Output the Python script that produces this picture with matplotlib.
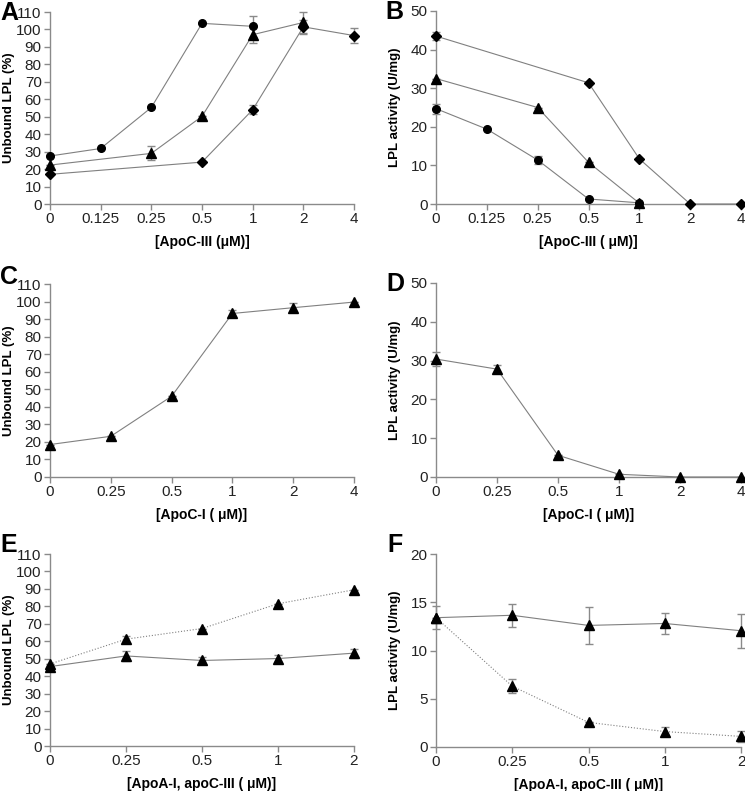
import numpy as np
import matplotlib as mpl
mpl.use('agg')
import matplotlib.pyplot as plt

plt.rcParams['font.family'] = ['Liberation Sans', 'DejaVu Sans']

## x categories (plotted at equal spacing)
conc_c3 = ['0', '0.125', '0.25', '0.5', '1', '2', '4']
conc_c1 = ['0', '0.25', '0.5', '1', '2', '4']
conc_mix = ['0', '0.25', '0.5', '1', '2']

## panel A: unbound LPL vs apoC-III
a_circ_x = ['0', '0.125', '0.25', '0.5', '1']
a_circ_y = [27.5, 31.8, 55.3, 103.5, 101.8]
a_circ_e = [0, 0, 0, 0, 6.0]
a_tri_x = ['0', '0.25', '0.5', '1', '2']
a_tri_y = [22.3, 29.0, 50.2, 97.0, 104.0]
a_tri_e = [0, 4.0, 0, 4.5, 6.0]
a_dia_x = ['0', '0.5', '1', '2', '4']
a_dia_y = [17.0, 24.0, 54.0, 101.5, 96.5]
a_dia_e = [0, 0, 2.5, 4.0, 4.5]

## panel B: LPL activity vs apoC-III
b_circ_x = ['0', '0.125', '0.25', '0.5', '1']
b_circ_y = [24.7, 19.4, 11.4, 1.3, 0.3]
b_circ_e = [1.3, 0, 1.0, 0, 0]
b_tri_x = ['0', '0.25', '0.5', '1']
b_tri_y = [32.5, 25.0, 10.8, 0.2]
b_tri_e = [0, 0, 0, 0]
b_dia_x = ['0', '0.5', '1', '2', '4']
b_dia_y = [43.5, 31.4, 11.7, 0.0, 0.0]
b_dia_e = [1.0, 0, 0, 0, 0]

## panel C / D: apoC-I
c_y = [18.5, 23.2, 46.0, 93.2, 96.5, 99.7]
c_e = [0, 0, 0, 2.0, 2.5, 0]
d_y = [30.4, 27.8, 5.6, 0.7, 0.0, 0.0]
d_e = [1.8, 1.0, 0, 0, 0, 0]

## panel E / F: apoA-I (solid) and apoC-III (dotted)
e_solid = [45.5, 51.6, 49.0, 50.1, 53.2]
e_solid_e = [0, 3.0, 2.0, 2.0, 2.5]
e_dot = [47.0, 61.2, 67.3, 81.5, 89.5]
e_dot_e = [0, 2.0, 0, 0, 0]
f_solid = [13.4, 13.65, 12.6, 12.8, 12.05]
f_solid_e = [1.2, 1.2, 1.9, 1.05, 1.75]
f_dot = [13.4, 6.3, 2.55, 1.6, 1.1]
f_dot_e = [0, 0.7, 0, 0.45, 0.55]

W, H = 745, 791
fig = plt.figure(figsize=(W / 100, H / 100), dpi=100)

GRAY = '#8a8a8a'
LINE = '#808080'


def make_ax(left, right, top, bottom):
    ax = fig.add_axes([left / W, 1 - bottom / H, (right - left) / W, (bottom - top) / H])
    ax.px_left = left
    ax.px_width = right - left
    for s in ['top', 'right']:
        ax.spines[s].set_visible(False)
    for s in ['left', 'bottom']:
        ax.spines[s].set_color(GRAY)
        ax.spines[s].set_linewidth(1.0)
    ax.tick_params(colors=GRAY, labelcolor='#222222', length=4, width=1.0,
                   labelsize=11, pad=2)
    return ax


def series(ax, cats, xs, ys, es, marker, ms, ls='-'):
    pos = [cats.index(x) for x in xs]
    ax.errorbar(pos, ys, yerr=es, fmt='none', ecolor=GRAY, elinewidth=1.0,
                capsize=3, capthick=1.0, clip_on=False, zorder=2)
    ax.plot(pos, ys, ls=ls, color=LINE, lw=0.8, zorder=3, clip_on=False)
    ax.plot(pos, ys, ls='none', marker=marker, ms=ms, color='black',
            zorder=4, clip_on=False)


def finish(ax, cats, ymax, ystep, xlabel, ylabel, letter, lx, ly, ylx):
    ax.set_xlim(0, len(cats) - 1)
    ax.set_ylim(0, ymax)
    ax.set_xticks(range(len(cats)))
    ax.set_xticklabels(cats)
    ax.set_yticks(np.arange(0, ymax + 0.1, ystep))
    ax.set_xlabel(xlabel, fontsize=10, fontweight='bold', labelpad=6)
    ax.set_ylabel(ylabel, fontsize=9.5, fontweight='bold', va='center')
    ax.yaxis.set_label_coords((ylx - ax.px_left) / ax.px_width, 0.5)
    fig.text(lx / W, 1 - ly / H, letter, fontsize=18, fontweight='bold',
             ha='left', va='center')


# A
ax = make_ax(50, 354, 12, 204)
series(ax, conc_c3, a_circ_x, a_circ_y, a_circ_e, 'o', 5.5)
series(ax, conc_c3, a_tri_x, a_tri_y, a_tri_e, '^', 6.5)
series(ax, conc_c3, a_dia_x, a_dia_y, a_dia_e, 'D', 4.8)
finish(ax, conc_c3, 110, 10, '[ApoC-III (\u03bcM)]', 'Unbound LPL (%)', 'A', 0, 13, 9)

# B
ax = make_ax(436, 741, 11, 204)
series(ax, conc_c3, b_circ_x, b_circ_y, b_circ_e, 'o', 5.5)
series(ax, conc_c3, b_tri_x, b_tri_y, b_tri_e, '^', 6.5)
series(ax, conc_c3, b_dia_x, b_dia_y, b_dia_e, 'D', 4.8)
finish(ax, conc_c3, 50, 10, '[ApoC-III ( \u03bcM)]', 'LPL activity (U/mg)', 'B', 385, 12, 395)

# C
ax = make_ax(50, 354, 284, 477)
series(ax, conc_c1, conc_c1, c_y, c_e, '^', 6.5)
finish(ax, conc_c1, 110, 10, '[ApoC-I ( \u03bcM)]', 'Unbound LPL (%)', 'C', 0, 277, 9)

# D
ax = make_ax(436, 741, 283, 477)
series(ax, conc_c1, conc_c1, d_y, d_e, '^', 6.5)
finish(ax, conc_c1, 50, 10, '[ApoC-I ( \u03bcM)]', 'LPL activity (U/mg)', 'D', 386, 284, 395)

# E
ax = make_ax(50, 354, 554, 746)
series(ax, conc_mix, conc_mix, e_dot, e_dot_e, '^', 6.5, ls=':')
series(ax, conc_mix, conc_mix, e_solid, e_solid_e, '^', 6.5)
finish(ax, conc_mix, 110, 10, '[ApoA-I, apoC-III ( \u03bcM)]', 'Unbound LPL (%)', 'E', 0, 545, 9)

# F
ax = make_ax(436, 741, 554, 747)
series(ax, conc_mix, conc_mix, f_dot, f_dot_e, '^', 6.5, ls=':')
series(ax, conc_mix, conc_mix, f_solid, f_solid_e, '^', 6.5)
finish(ax, conc_mix, 20, 5, '[ApoA-I, apoC-III ( \u03bcM)]', 'LPL activity (U/mg)', 'F', 387, 545, 395)

fig.savefig('out.png', dpi=100)
